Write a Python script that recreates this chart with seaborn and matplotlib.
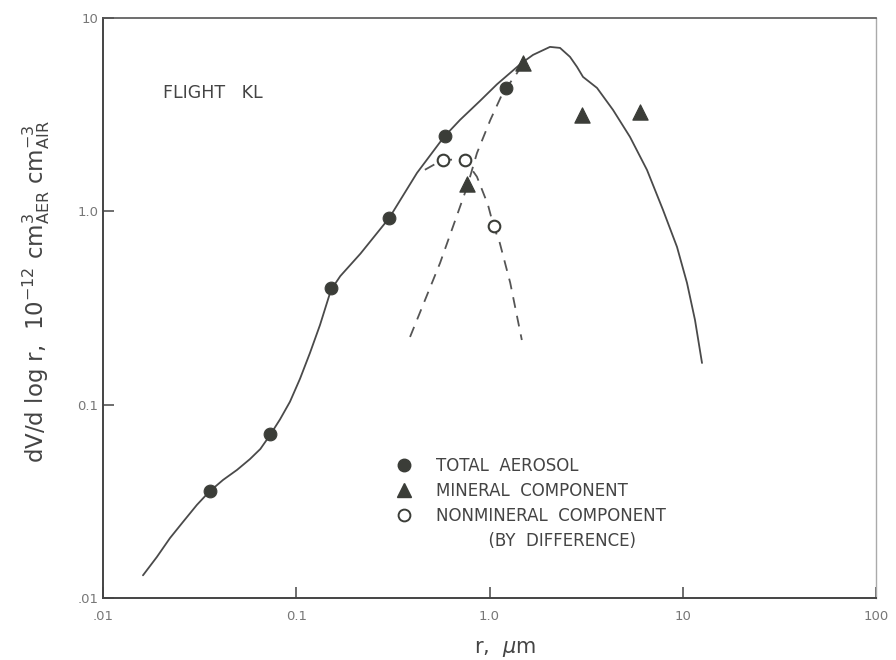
import numpy as np
import pandas as pd
import matplotlib
matplotlib.use("Agg")
import matplotlib.pyplot as plt
from matplotlib.lines import Line2D
import seaborn as sns

# ---- data (r in um, dV/dlog r) ----
total_r = [0.0358, 0.0731, 0.151, 0.303, 0.589, 1.22]
total_v = [0.0358, 0.0705, 0.402, 0.92, 2.45, 4.35]

mineral_r = [0.766, 1.49, 3.01, 6.01]
mineral_v = [1.39, 5.86, 3.16, 3.27]

nonmin_r = [0.574, 0.746, 1.05]
nonmin_v = [1.85, 1.85, 0.839]

# solid fitted curve (total aerosol)
curve_r = [0.0161, 0.0190, 0.0222, 0.0259, 0.0306, 0.0354, 0.0418, 0.0494, 0.0576,
           0.0652, 0.0731, 0.0824, 0.0928, 0.1046, 0.1178, 0.1327, 0.1513,
           0.1690, 0.2150, 0.3030, 0.4215, 0.5814, 0.7038, 0.8929,
           1.094, 1.462, 1.680, 2.056, 2.317, 2.610, 2.837, 3.047, 3.600, 4.357,
           5.333, 6.531, 7.903, 9.338, 10.52, 11.57, 12.58]
curve_v = [0.0131, 0.0163, 0.0204, 0.0247, 0.0303, 0.0354, 0.0408, 0.0460, 0.0523,
           0.0590, 0.0695, 0.0839, 0.1036, 0.1362, 0.1854, 0.2583, 0.3923,
           0.4624, 0.6045, 0.9250, 1.580, 2.426, 2.971, 3.725,
           4.544, 5.834, 6.445, 7.088, 7.004, 6.294, 5.585, 4.959, 4.349, 3.346,
           2.426, 1.637, 1.017, 0.6545, 0.4262, 0.2743, 0.1643]

# dashed curve (mineral component)
mcurve_r = [0.388, 0.555, 0.766, 0.861, 1.01, 1.17, 1.39, 1.49]
mcurve_v = [0.224, 0.541, 1.34, 2.00, 2.97, 4.09, 5.20, 5.86]

# dashed curve (nonmineral component)
ncurve_r = [0.463, 0.574, 0.746, 0.861, 0.982, 1.05, 1.13, 1.28, 1.47]
ncurve_v = [1.64, 1.85, 1.85, 1.51, 1.08, 0.839, 0.687, 0.427, 0.216]

x_ticks = [0.01, 0.1, 1.0, 10, 100]
x_ticklabels = [".01", "0.1", "1.0", "10", "100"]
y_ticks = [0.01, 0.1, 1.0, 10]
y_ticklabels = [".01", "0.1", "1.0", "10"]

legend_labels = ["TOTAL  AEROSOL", "MINERAL  COMPONENT",
                 "NONMINERAL  COMPONENT", "          (BY  DIFFERENCE)"]

# ---- plotting ----
sns.set_theme(style="white")
plt.rcParams['font.family'] = ['DejaVu Sans']

fig = plt.figure(figsize=(8.96, 6.6), dpi=100)
ax = fig.add_axes([103/896, 62/660, 773/896, 580/660])

line_col = "#4a4a4a"
mark_col = "#3b3d38"

sns.lineplot(x=curve_r, y=curve_v, ax=ax, color=line_col, lw=1.3,
             sort=False, estimator=None)
sns.lineplot(x=mcurve_r, y=mcurve_v, ax=ax, color="#555555", lw=1.3,
             sort=False, estimator=None, linestyle=(0, (6, 4.5)))
sns.lineplot(x=ncurve_r, y=ncurve_v, ax=ax, color="#555555", lw=1.3,
             sort=False, estimator=None, linestyle=(0, (6, 4.5)))

sns.scatterplot(x=total_r, y=total_v, ax=ax, marker="o", s=85,
                color=mark_col, edgecolor=mark_col, zorder=5)
sns.scatterplot(x=mineral_r, y=mineral_v, ax=ax, marker="^", s=120,
                color=mark_col, edgecolor=mark_col, zorder=5)
sns.scatterplot(x=nonmin_r, y=nonmin_v, ax=ax, marker="o", s=70,
                facecolor="white", edgecolor=mark_col, linewidth=1.5, zorder=5)

ax.set_xscale("log")
ax.set_yscale("log")
ax.set_xlim(0.01, 100)
ax.set_ylim(0.01, 10)
ax.set_xticks(x_ticks)
ax.set_xticklabels(x_ticklabels)
ax.set_yticks(y_ticks)
ax.set_yticklabels(y_ticklabels)
ax.minorticks_off()
ax.tick_params(axis="both", which="major", direction="in", length=8, width=1.2,
               color="#555555", labelsize=9.5, labelcolor="#777777",
               bottom=True, left=True)
ax.tick_params(axis="x", pad=9)
ax.tick_params(axis="y", pad=3.5)

for side in ["left", "bottom"]:
    ax.spines[side].set_color("#444444")
    ax.spines[side].set_linewidth(1.4)
ax.spines["top"].set_color("#555555")
ax.spines["top"].set_linewidth(1.2)
ax.spines["right"].set_color("#aaaaaa")
ax.spines["right"].set_linewidth(1.0)

ax.set_xlabel(r"r,  $\mu$m", fontsize=15, color="#444444")
ax.xaxis.set_label_coords(0.52, -0.07)
ax.set_ylabel(r"dV/d log r,  10$^{-12}$ cm$^{3}_{\rm AER}$ cm$^{-3}_{\rm AIR}$",
              fontsize=16.5, color="#444444")
ax.yaxis.set_label_coords(-0.066, 0.528)

ax.text(0.02044, 4.09, "FLIGHT   KL", fontsize=12.5, color="#444444", va="center")

handles = [
    Line2D([], [], marker="o", ls="none", color=mark_col, markersize=9),
    Line2D([], [], marker="^", ls="none", color=mark_col, markersize=10),
    Line2D([], [], marker="o", ls="none", markerfacecolor="white",
           markeredgecolor=mark_col, markeredgewidth=1.4, markersize=8.5),
    Line2D([], [], ls="none"),
]
leg = ax.legend(handles, legend_labels, loc="upper left",
                bbox_to_anchor=(395/896, 1 - 457/660), bbox_transform=fig.transFigure,
                frameon=False, fontsize=12, labelspacing=0.43, handletextpad=1.35,
                handlelength=1.1, borderaxespad=0, borderpad=0)
for t in leg.get_texts():
    t.set_color("#444444")

fig.savefig("out.png", dpi=100, facecolor="white")
